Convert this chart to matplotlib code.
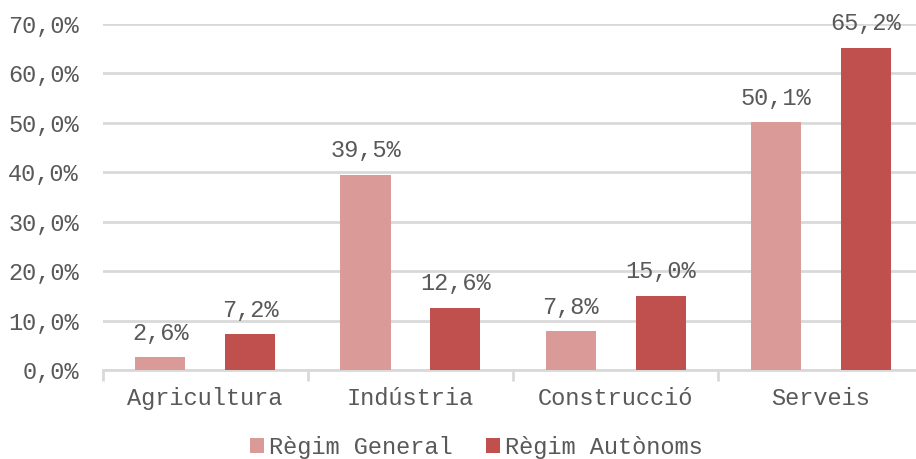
import matplotlib
matplotlib.use("Agg")
import matplotlib.pyplot as plt
import numpy as np
from matplotlib.ticker import FuncFormatter

categories = ["Agricultura", "Indústria", "Construcció", "Serveis"]
general = [2.6, 39.5, 7.8, 50.1]
autonoms = [7.2, 12.6, 15.0, 65.2]
series_names = ["Règim General", "Règim Autònoms"]

plt.rcParams['font.family'] = ['Liberation Mono', 'DejaVu Sans']
txt = '#595959'
c1, c2 = '#DA9A98', '#C0504D'

fig = plt.figure(figsize=(9.16, 4.59), dpi=100)
ax = fig.add_axes([0.1119, 0.194, 0.8965, 0.754])
x = np.arange(len(categories))
w = 0.244
off = 0.219
b1 = ax.bar(x - off, general, w, color=c1, label=series_names[0], zorder=3)
b2 = ax.bar(x + off, autonoms, w, color=c2, label=series_names[1], zorder=3)
fmt = lambda v: f"{v:.1f}".replace('.', ',') + '%'
for bars, vals in ((b1, general), (b2, autonoms)):
    for r, v in zip(bars, vals):
        ax.annotate(fmt(v), (r.get_x() + r.get_width()/2, v), xytext=(0, 9),
                    textcoords='offset points', ha='center', va='bottom',
                    fontsize=17, color=txt)

ax.set_ylim(0, 70)
ax.set_yticks(np.arange(0, 71, 10))
ax.yaxis.set_major_formatter(FuncFormatter(lambda v, p: fmt(v)))
ax.set_xlim(-0.5, len(categories) - 0.5)
ax.set_xticks(x)
ax.set_xticklabels(categories)
ax.set_xticks(np.arange(-0.5, len(categories)), minor=True)
ax.tick_params(axis='x', which='major', length=0, pad=12, labelsize=17, labelcolor=txt)
ax.tick_params(axis='x', which='minor', length=8, width=2, color='#D9D9D9')
ax.tick_params(axis='y', length=0, pad=17, labelsize=17, labelcolor=txt)
ax.grid(axis='y', color='#D9D9D9', linewidth=2, zorder=0)
for s in ['top', 'right', 'left']:
    ax.spines[s].set_visible(False)
ax.spines['bottom'].set_color('#D9D9D9')
ax.spines['bottom'].set_linewidth(2)

leg = fig.legend(handles=[b1, b2], loc='lower center', bbox_to_anchor=(0.52, -0.046),
                 ncol=2, frameon=False, fontsize=17, handlelength=0.6, handleheight=0.6,
                 handletextpad=0.2, columnspacing=1.4)
for t in leg.get_texts():
    t.set_color(txt)
fig.savefig("out.png", dpi=100)
